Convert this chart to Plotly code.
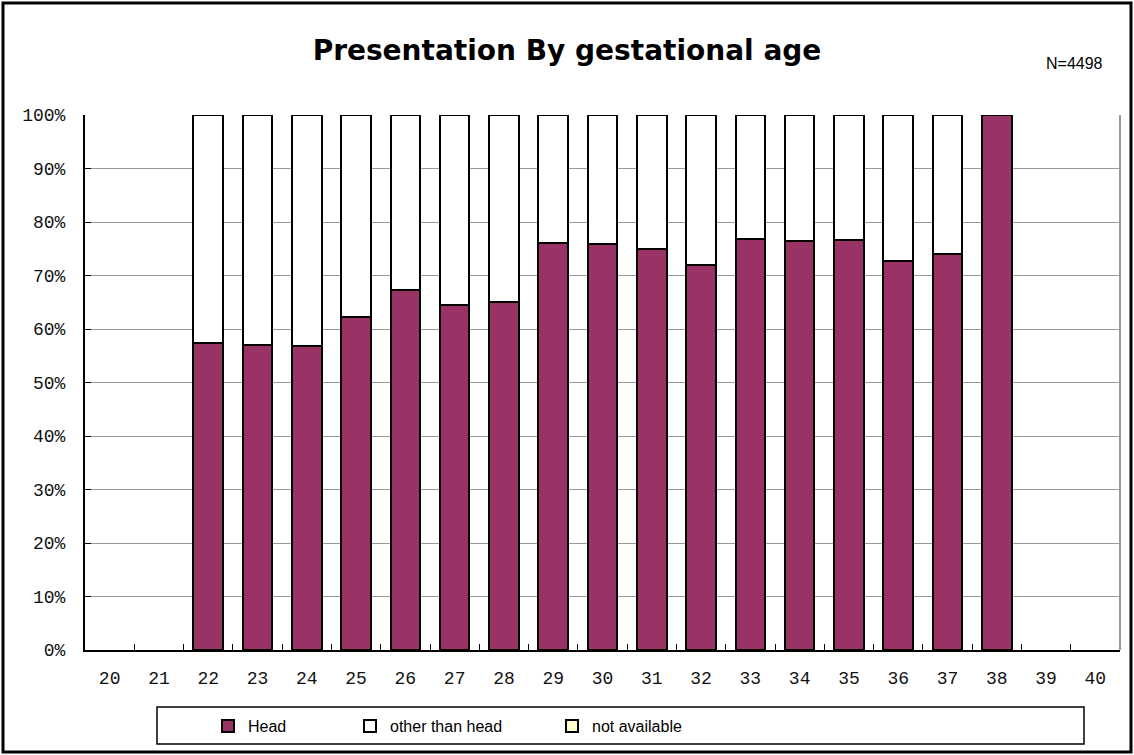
import plotly.graph_objects as go

weeks = [str(w) for w in range(20, 41)]
head_pct = [0, 0, 57.4, 57.1, 56.9, 62.2, 67.2, 64.4, 65.0, 76.0, 75.8, 74.9,
            72.0, 76.9, 76.5, 76.6, 72.8, 74.0, 100.0, 0, 0]
other_pct = [0, 0, 42.6, 42.9, 43.1, 37.8, 32.8, 35.6, 35.0, 24.0, 24.2, 25.1,
             28.0, 23.1, 23.5, 23.4, 27.2, 26.0, 0.0, 0, 0]
na_pct = [0] * 21
y_ticks = list(range(0, 101, 10))
y_labels = [f"{v}%" for v in y_ticks]

W, H = 1134, 755
L, R, T, B = 85, 1120, 115, 650
pw, ph = R - L, B - T

def px_x(x):
    return (x - L) / pw

def px_y(y):
    return (B - y) / ph

def nz(vals):
    return [v if v else None for v in vals]

fig = go.Figure()
line = dict(color="black", width=2)
fig.add_trace(go.Bar(x=weeks, y=nz(head_pct), name="Head", width=0.6,
                     marker=dict(color="#993366", line=line), legend="legend"))
fig.add_trace(go.Bar(x=weeks, y=nz(other_pct), name="other than head", width=0.6,
                     marker=dict(color="#FFFFFF", line=line), legend="legend2"))
fig.add_trace(go.Bar(x=weeks, y=nz(na_pct), name="not available", width=0.6,
                     marker=dict(color="#FFFFCC", line=line), legend="legend3"))

leg_font = dict(family="Liberation Sans", size=16, color="black")
def leg(xpx):
    return dict(x=px_x(xpx), xanchor="left", y=px_y(726), yanchor="middle",
                bgcolor="rgba(0,0,0,0)", borderwidth=0, font=leg_font,
                orientation="h")

tick_font = dict(family="Liberation Mono", size=18, color="#111111")

fig.update_layout(
    width=W, height=H,
    margin=dict(l=L, r=W - R, t=T, b=H - B),
    barmode="stack",
    bargap=0.4,
    plot_bgcolor="white", paper_bgcolor="white",
    showlegend=True,
    legend=leg(208), legend2=leg(350), legend3=leg(552),
    title=dict(text="<b>Presentation By gestational age</b>", x=0.5, xanchor="center",
               y=1 - 50 / H, yanchor="middle",
               font=dict(family="DejaVu Sans", size=28, color="black")),
    xaxis=dict(type="category", tickson="boundaries", ticks="inside", ticklen=6,
               tickcolor="black", showline=True, linecolor="black", linewidth=2,
               showgrid=False, ticklabelstandoff=10, tickfont=tick_font),
    yaxis=dict(range=[0, 100], tickvals=y_ticks, ticktext=y_labels, ticks="inside",
               ticklen=6, tickcolor="black", showline=True, linecolor="black",
               linewidth=2, showgrid=True, gridcolor="#999999", gridwidth=1,
               zeroline=False, ticklabelstandoff=14, tickfont=tick_font),
    shapes=[
        dict(type="line", xref="paper", yref="paper", x0=1, x1=1, y0=0, y1=1,
             line=dict(color="#999999", width=2)),
        dict(type="rect", xref="paper", yref="paper", x0=px_x(157), x1=px_x(1084),
             y0=px_y(744), y1=px_y(707), line=dict(color="black", width=1.5)),
        dict(type="rect", xref="paper", yref="paper", x0=px_x(3), x1=px_x(1131),
             y0=px_y(752), y1=px_y(3), line=dict(color="black", width=3)),
    ],
    annotations=[
        dict(text="N=4498", xref="paper", yref="paper", x=px_x(1074), y=px_y(64),
             xanchor="center", yanchor="middle", showarrow=False,
             font=dict(family="Liberation Sans", size=16, color="black")),
    ],
)

fig.write_html("out.html", config={"displayModeBar": False},
               post_script="document.body.style.margin='0px';")
